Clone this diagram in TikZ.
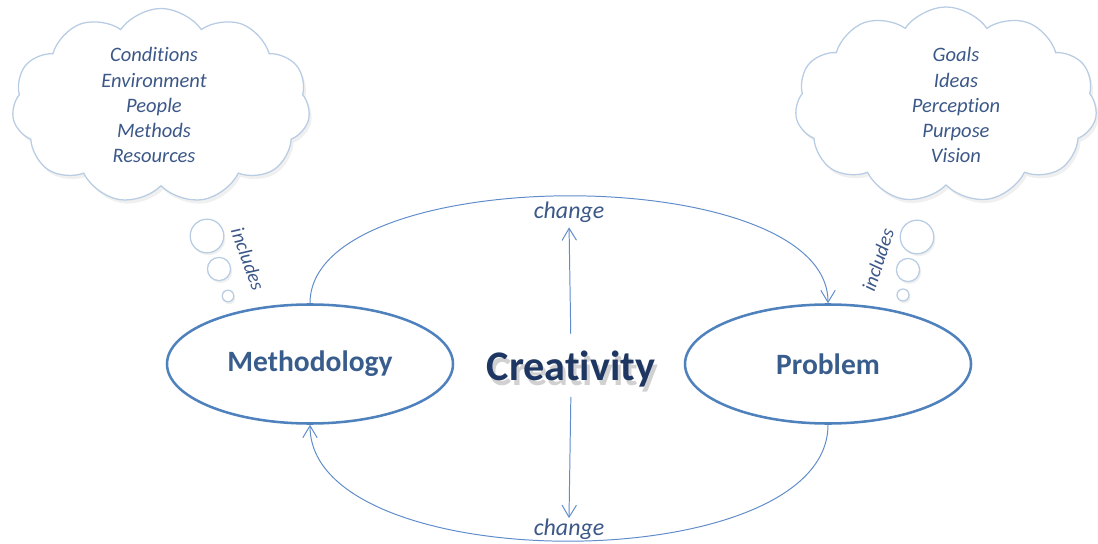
\documentclass[tikz,border=0pt]{standalone}
\usepackage{fontspec}
\setmainfont{Carlito}[Ligatures=NoCommon]
\usetikzlibrary{arrows.meta,shapes.geometric,shapes.symbols,shadows,positioning}
\definecolor{edgeblue}{RGB}{79,129,189}
\definecolor{arcblue}{RGB}{96,140,202}
\definecolor{textblue}{RGB}{56,93,141}
\definecolor{navy}{RGB}{30,55,98}
\definecolor{puffline}{RGB}{184,204,228}
\definecolor{pufftext}{RGB}{60,88,136}
\tikzset{
    thought/.style={cloud,cloud puffs=11,cloud puff arc=110,cloud ignores aspect,
        draw=puffline,fill=white,line width=0.9pt,inner sep=0pt,
        drop shadow={opacity=0.12,shadow xshift=0.6mm,shadow yshift=-0.9mm}},
    bubble/.style={circle,draw=puffline,fill=white,line width=0.9pt,inner sep=0pt,
        drop shadow={opacity=0.12,shadow xshift=0.4mm,shadow yshift=-0.6mm}},
    words/.style={align=center,inner sep=0pt,text=pufftext,
        font=\fontsize{14.6}{17.8}\selectfont\itshape},
    topic/.style={ellipse,draw=edgeblue,line width=1.8pt,minimum width=71.5mm,
        minimum height=29.75mm,text=textblue,font=\fontsize{21}{25}\selectfont\bfseries},
    flow/.style={draw=arcblue,line width=0.7pt,-{Straight Barb[length=3mm,width=3.6mm]}},
    tag/.style={text=pufftext,inner sep=0pt,font=\fontsize{17}{20}\selectfont\itshape},
    bigword/.style={anchor=base,inner sep=0pt,font=\fontsize{30}{36}\selectfont\bfseries},
}
\begin{document}
\begin{tikzpicture}[x=0.25mm,y=-0.25mm]
    \useasboundingbox (0,0) rectangle (1098,544);

    % thought clouds
    \node[thought,minimum width=74.5mm,minimum height=48.75mm] (mcloud) at (161,106) {};
    \node[thought,minimum width=75.5mm,minimum height=49mm] (pcloud) at (946,105) {};
    \node[words] (mlist) at (154,105) {Conditions\\Environment\\People\\Methods\\Resources};
    \node[words] (plist) at (956,105) {Goals\\Ideas\\Perception\\Purpose\\Vision};

    \node[bubble,minimum size=8.4mm] (mb1) at (207,236) {};
    \node[bubble,minimum size=5.8mm] (mb2) at (219,269) {};
    \node[bubble,minimum size=2.9mm] (mb3) at (228,296) {};
    \node[bubble,minimum size=8.4mm] (pb1) at (917,237) {};
    \node[bubble,minimum size=5.8mm] (pb2) at (908,270) {};
    \node[bubble,minimum size=3mm] (pb3) at (903,295) {};
    \node[tag,font=\fontsize{14}{16}\selectfont\itshape,rotate=-70] (minc) at (248,259) {includes};
    \node[tag,font=\fontsize{14}{16}\selectfont\itshape,rotate=72] (pinc) at (878,260) {includes};

    % main loop
    \node[topic] (meth) at (310,364) {Methodology};
    \node[topic] (prob) at (828,364) {Problem};
    \node[bigword,opacity=0.18] (creashade) at (574,385) {Creativity};
    \node[bigword,text=navy] (crea) at (571,380) {Creativity};
    \node[tag,anchor=base] (chtop) at (569,219) {change};
    \node[tag,anchor=base] (chbot) at (569,535) {change};

    \draw[flow] (meth.north) .. controls +(0,-143) and +(0,-143) .. (prob.north);
    \draw[flow] (prob.south) .. controls +(0,155) and +(0,155) .. (meth.south);
    \draw[flow,shorten <=4mm,shorten >=1mm] (crea.north) -- (chtop.south);
    \draw[flow,shorten <=2.5mm] (crea.south) -- (chbot.north);
\end{tikzpicture}
\end{document}
